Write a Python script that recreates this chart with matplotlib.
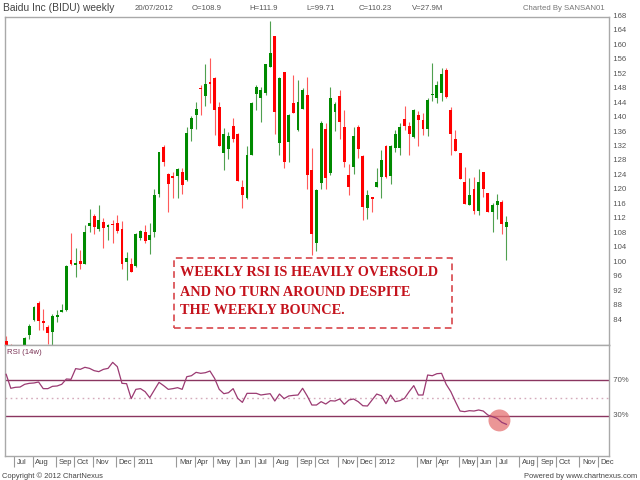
import numpy as np
import pandas as pd
import matplotlib
matplotlib.use('Agg')
import matplotlib.pyplot as plt
from matplotlib.patches import Rectangle
from matplotlib.transforms import blended_transform_factory

# Baidu Inc (BIDU) weekly bars, weeks starting Monday 2010-06-21 .. 2012-07-16
opens = [77.3, 75.9, 74.5, 73.4, 75.6, 79.1, 83.1, 87.7, 82.8, 81.2,
         79.9, 84.0, 85.2, 85.9, 99.6, 98.3, 99.4, 98.7, 109.2, 111.8,
         108.2, 110.1, 108.9, 109.7, 110.0, 108.3, 99.1, 98.7, 98.1, 105.8,
         107.3, 105.3, 107.4, 117.9, 130.8, 123.4, 122.7, 123.0, 124.0, 121.7,
         136.0, 139.7, 147.3, 145.0, 148.9, 149.9, 142.0, 129.1, 130.3, 136.7,
         134.4, 119.9, 116.8, 128.8, 145.4, 144.5, 145.7, 153.0, 161.6, 131.9,
         151.7, 132.2, 143.1, 135.6, 141.5, 145.3, 124.5, 104.3, 120.9, 136.0,
         123.6, 140.5, 145.0, 136.5, 123.2, 125.5, 136.3, 128.4, 114.0, 117.0,
         119.9, 122.7, 131.2, 123.0, 130.7, 130.7, 138.6, 136.7, 133.7, 139.7,
         138.3, 135.8, 145.3, 144.5, 145.9, 152.2, 141.1, 133.1, 129.1, 121.3,
         114.8, 119.4, 113.2, 124.0, 118.1, 112.8, 115.0, 115.6, 108.9]
highs = [78.8, 76.6, 75.5, 75.8, 78.4, 81.9, 87.1, 88.4, 86.1, 81.7,
         84.7, 85.8, 87.5, 98.4, 107.1, 103.1, 102.4, 109.3, 113.8, 112.3,
         115.0, 111.2, 109.5, 110.7, 112.0, 110.5, 102.0, 100.3, 107.0, 108.1,
         109.3, 109.9, 119.2, 129.6, 131.4, 123.6, 124.0, 125.2, 125.2, 136.5,
         139.4, 143.2, 148.0, 153.7, 155.6, 150.3, 143.4, 136.2, 135.1, 139.0,
         134.7, 121.7, 131.2, 143.4, 148.0, 147.5, 153.7, 165.7, 161.6, 150.1,
         151.7, 139.9, 150.9, 149.4, 147.1, 150.3, 130.5, 119.4, 138.1, 137.4,
         147.5, 143.2, 146.6, 141.1, 126.3, 136.5, 136.9, 128.6, 118.9, 117.0,
         125.0, 130.1, 131.4, 131.4, 135.6, 137.4, 142.3, 137.9, 141.4, 140.8,
         140.2, 144.3, 154.0, 149.1, 152.7, 152.7, 142.0, 135.6, 129.1, 125.5,
         122.4, 122.7, 124.8, 124.0, 118.1, 115.3, 117.8, 116.3, 111.9]
lows = [75.0, 73.5, 72.5, 72.4, 75.0, 77.8, 82.8, 80.3, 80.3, 76.6,
        76.0, 82.5, 85.2, 85.7, 98.4, 95.0, 97.3, 98.5, 107.5, 106.8,
        107.6, 103.0, 105.2, 104.4, 107.0, 97.3, 94.1, 96.4, 97.8, 105.2,
        104.5, 101.3, 105.9, 117.1, 125.7, 112.8, 116.8, 116.8, 117.8, 121.5,
        132.6, 135.8, 139.7, 142.3, 143.1, 134.2, 131.1, 124.5, 127.6, 132.4,
        121.5, 114.1, 116.6, 128.6, 141.1, 137.7, 145.2, 153.0, 134.6, 128.6,
        125.0, 126.8, 140.2, 135.3, 141.5, 119.4, 101.0, 102.1, 119.4, 119.4,
        123.2, 135.3, 133.0, 125.5, 117.6, 123.3, 127.8, 110.7, 111.0, 113.0,
        119.9, 116.8, 122.2, 120.6, 129.6, 128.8, 135.6, 128.8, 133.4, 131.2,
        134.2, 134.0, 143.6, 143.1, 143.6, 144.3, 128.8, 129.8, 122.0, 115.1,
        114.8, 112.5, 112.2, 117.1, 113.0, 107.4, 111.0, 106.8, 99.71]
closes = [76.0, 74.5, 73.2, 75.4, 78.1, 81.5, 86.6, 82.9, 82.4, 79.4,
          84.3, 84.5, 85.9, 97.9, 98.7, 98.9, 98.5, 107.4, 110.0, 108.8,
          110.7, 108.6, 109.4, 109.3, 107.6, 98.6, 100.3, 96.4, 106.8, 107.6,
          105.0, 106.6, 117.6, 129.4, 126.8, 120.6, 122.4, 124.8, 120.4, 134.8,
          138.8, 141.5, 146.9, 148.4, 148.2, 141.1, 131.1, 134.5, 134.0, 133.1,
          121.5, 117.6, 128.6, 143.1, 147.5, 146.6, 153.7, 156.9, 140.6, 150.0,
          126.8, 139.7, 140.2, 143.2, 146.6, 123.2, 106.8, 118.9, 137.4, 122.2,
          144.3, 142.9, 137.7, 126.8, 119.9, 133.9, 130.3, 114.3, 117.6, 116.5,
          121.1, 127.3, 122.7, 131.1, 134.4, 136.5, 136.7, 134.6, 141.1, 138.3,
          135.8, 144.0, 145.6, 148.0, 151.0, 144.8, 134.4, 129.8, 122.0, 115.1,
          117.6, 113.2, 121.3, 119.2, 113.0, 114.8, 116.0, 109.7, 110.23]
# RSI (14 weeks)
rsi = [76.8, 61.0, 62.1, 62.4, 65.5, 66.6, 67.0, 68.1, 60.6, 60.6,
       63.2, 63.6, 65.5, 71.5, 71.1, 83.2, 82.4, 84.7, 83.5, 80.9,
       79.8, 82.4, 83.5, 90.3, 85.4, 66.6, 66.2, 49.3, 59.8, 60.6,
       57.2, 50.4, 59.1, 67.7, 64.0, 59.8, 60.6, 61.7, 59.8, 74.1,
       75.2, 79.0, 77.9, 78.6, 80.5, 72.2, 59.8, 54.9, 56.0, 60.6,
       49.6, 45.1, 55.3, 55.3, 55.3, 53.4, 54.2, 54.9, 46.6, 54.5,
       49.3, 52.3, 53.0, 53.4, 61.0, 52.3, 42.1, 42.1, 45.9, 43.2,
       47.0, 46.6, 48.9, 42.9, 47.8, 48.9, 45.9, 41.3, 41.0, 47.8,
       54.5, 52.6, 43.6, 53.4, 45.9, 47.0, 49.6, 57.2, 64.0, 53.4,
       53.4, 76.0, 75.2, 77.5, 77.9, 65.5, 57.2, 45.9, 35.3, 34.6,
       35.7, 35.3, 36.5, 35.3, 30.8, 28.9, 27.0, 22.5, 20.3]

price_ticks = list(range(84, 169, 4))
rsi_levels = [70, 30]

header = ['Baidu Inc (BIDU) weekly', '20/07/2012', 'O=108.9', 'H=111.9',
          'L=99.71', 'C=110.23', 'V=27.9M']
note_lines = ['WEEKLY RSI IS HEAVILY OVERSOLD', 'AND NO TURN AROUND DESPITE',
              'THE WEEKLY BOUNCE.']

# axis calendar (weekly, running on to the end of 2012)
weeks = pd.date_range('2010-06-21', '2012-12-31', freq='7D')

W, H = 640, 480
def fx(px):
    return px / W
def fy(py):
    return 1 - py / H

plt.rcParams['font.family'] = ['Liberation Sans', 'DejaVu Sans']
fig = plt.figure(figsize=(6.4, 4.8), dpi=100)
fig.patch.set_facecolor('white')

ax = fig.add_axes([fx(5), fy(345), fx(609) - fx(5), fy(17) - fy(345)])
ax2 = fig.add_axes([fx(5), fy(456), fx(609) - fx(5), fy(345) - fy(456)], sharex=ax)

frame = '#a9a9a9'
for a in (ax, ax2):
    for s in a.spines.values():
        s.set_color(frame)
        s.set_linewidth(1.0)

# candles
x = np.arange(len(opens))
o = np.array(opens); h = np.array(highs); l = np.array(lows); c = np.array(closes)
up = c >= o
cols = np.where(up, '#008a00', '#ff0000')
wick_cols = np.where(up, '#4fa04f', '#ff5a5a')
ax.vlines(x, l, h, colors=wick_cols, linewidth=0.8, zorder=2)
body_lo = np.minimum(o, c)
body_h = np.maximum(np.abs(c - o), 0.35)
ax.bar(x, body_h, bottom=body_lo, width=0.62, color=cols, linewidth=0, zorder=3)

ax.set_xlim(-0.25, 130.15)
ax.set_ylim(76.2, 166.8)
ax.tick_params(left=False, right=False, bottom=False, labelleft=False,
               labelbottom=False)
ax.set_yticks([])

# price labels sit just below their level
tr = blended_transform_factory(ax.transAxes, ax.transData)
for v in price_ticks:
    ax.text(1.0, v, '  ' + str(v), transform=tr, ha='left', va='top',
            fontsize=5.6, color='#555555', clip_on=False)

# RSI panel
ax2.set_ylim(-15.5, 109.9)
ax2.plot(np.arange(len(rsi)), rsi, color='#9b3a72', lw=0.9, zorder=4)
for lv in rsi_levels:
    ax2.axhline(lv, color='#8a3560', lw=1.0, zorder=2)
ax2.axhline(50, color='#d4aabb', lw=1.0, ls=(0, (1.2, 2.5)), zorder=1)
ax2.scatter([np.mean(x[-4:])], [np.mean(rsi[-4:])], s=250, color='#e57373',
            alpha=0.75, edgecolors='none', zorder=3)
ax2.text(0.004, 0.96, 'RSI (14w)', transform=ax2.transAxes, fontsize=5.6,
         color='#7a3355', ha='left', va='top')
tr2 = blended_transform_factory(ax2.transAxes, ax2.transData)
for lv in rsi_levels:
    ax2.text(1.0, lv, '  %d%%' % lv, transform=tr2, ha='left', va='center',
             fontsize=5.6, color='#555555', clip_on=False)
ax2.set_yticks([])

# month separators
pos, labs = [], []
for i in range(1, len(weeks)):
    d = weeks[i]
    if d.month != weeks[i - 1].month and d.month != 2:
        pos.append(i - 0.3)
        labs.append(str(d.year) if d.month == 1 else d.strftime('%b'))
ax2.set_xticks(pos)
ax2.tick_params(axis='x', direction='out', length=8, width=0.8,
                color='#999999', labelbottom=False)
ax2.tick_params(axis='y', left=False, right=False)
for p, lab in zip(pos, labs):
    ax2.annotate(lab, xy=(p, 0), xycoords=('data', 'axes fraction'),
                 xytext=(2.0, -2.5), textcoords='offset points',
                 ha='left', va='top', fontsize=5.5, color='#444444',
                 annotation_clip=False)

# header line
hx = [3, 135, 192, 249, 306, 359, 412]
fig.text(fx(hx[0]), fy(8), header[0], fontsize=7.4, color='#444444',
         va='center', ha='left')
for px, t in zip(hx[1:], header[1:]):
    fig.text(fx(px), fy(8), t, fontsize=5.6, color='#555555', va='center',
             ha='left')
fig.text(fx(605), fy(8), 'Charted By SANSAN01', fontsize=5.6, color='#777777',
         va='center', ha='right')

# footer
fig.text(fx(2), fy(476), 'Copyright \u00a9 2012 ChartNexus', fontsize=5.4,
         color='#444444', va='center', ha='left')
fig.text(fx(637), fy(476), 'Powered by www.chartnexus.com', fontsize=5.4,
         color='#444444', va='center', ha='right')

# comment box
fig.patches.append(Rectangle((fx(174), fy(328)), fx(452) - fx(174),
                             fy(258) - fy(328), transform=fig.transFigure,
                             fill=False, edgecolor='#d8474b', lw=1.2,
                             ls=(0, (4, 2.5))))
for yy, t in zip([273, 292, 310], note_lines):
    fig.text(fx(180), fy(yy), t, fontsize=10.3, fontweight='bold',
             family=['Liberation Serif', 'DejaVu Serif'], color='#c4121c',
             va='center', ha='left')

fig.savefig('out.png', dpi=100, facecolor='white')
